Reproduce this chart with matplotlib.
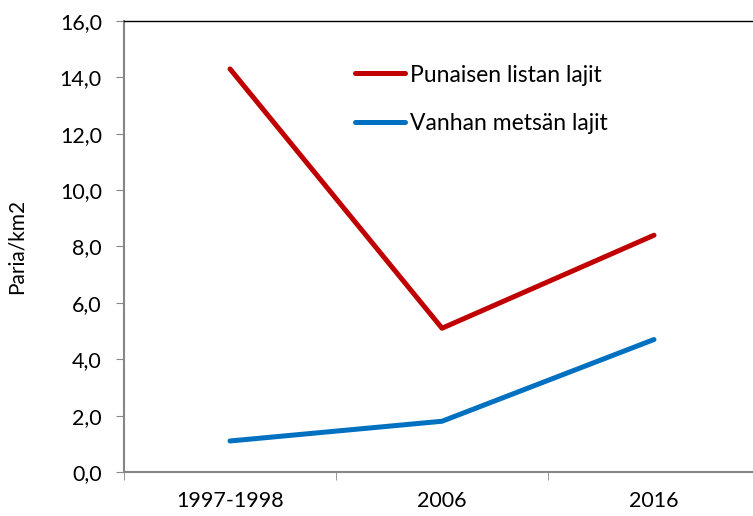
import matplotlib.pyplot as plt
import matplotlib.ticker as mticker

categories = ["1997-1998", "2006", "2016"]
punainen = [14.3, 5.1, 8.4]
vanha = [1.1, 1.8, 4.7]
series_labels = ["Punaisen listan lajit", "Vanhan metsän lajit"]

plt.rcParams['font.family'] = ['Lato', 'DejaVu Sans']

fig = plt.figure(figsize=(7.53, 5.16), dpi=100)
# plot area runs a little past the right edge, as in the original
ax = fig.add_axes([0.1647, 0.0853, 0.8446, 0.874])

x = list(range(len(categories)))
l1, = ax.plot(x, punainen, color="#C00000", lw=3.6, solid_capstyle='round', label=series_labels[0])
l2, = ax.plot(x, vanha, color="#0070C0", lw=3.6, solid_capstyle='round', label=series_labels[1])

ax.set_xlim(-0.5, 2.5)
ax.set_ylim(0, 16)
ax.set_yticks(range(0, 17, 2))
ax.yaxis.set_major_formatter(mticker.FuncFormatter(lambda v, p: f"{v:.1f}".replace(".", ",")))
ax.set_xticks(x)
ax.set_xticklabels(categories)
ax.set_xticks([-0.5, 0.5, 1.5, 2.5], minor=True)
ax.tick_params(axis='x', which='major', length=0, pad=14, labelsize=15.5)
ax.tick_params(axis='x', which='minor', length=6, color="#868686", direction='out')
ax.tick_params(axis='y', length=6, color="#868686", direction='out', labelsize=15.5, pad=10)

ax.spines['right'].set_visible(False)
ax.spines['top'].set_color("black")
ax.spines['top'].set_linewidth(1.0)
for s in ['left', 'bottom']:
    ax.spines[s].set_color("#868686")
    ax.spines[s].set_linewidth(1.5)

ax.set_ylabel("Paria/km2", fontsize=15, labelpad=24)

fig.legend([l1, l2], series_labels, loc='upper left', bbox_to_anchor=(0.4714, 0.875),
           frameon=False, fontsize=16.5, handlelength=2.2, handletextpad=0.22,
           labelspacing=1.2, borderaxespad=0, borderpad=0)

fig.savefig("out.png", dpi=100)
